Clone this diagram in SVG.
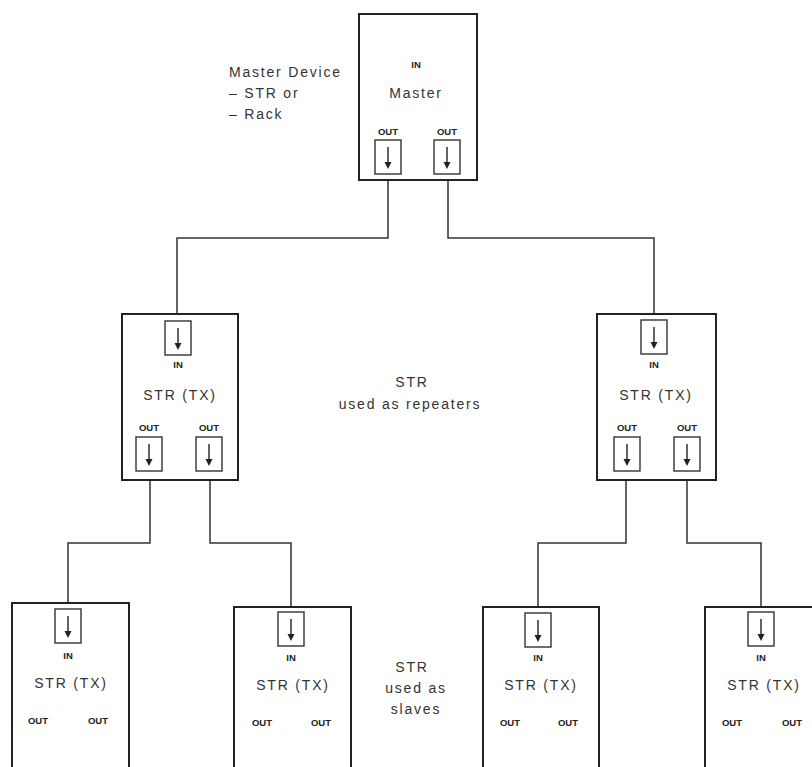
<svg xmlns="http://www.w3.org/2000/svg" width="812" height="767" viewBox="0 0 812 767">
<style>
.box{fill:#fff;stroke:#222;stroke-width:2}
.port{fill:#fff;stroke:#333;stroke-width:1.4}
.arr{stroke:#222;stroke-width:1.4;fill:none}
.wire{stroke:#333;stroke-width:1.5;fill:none}
text{font-family:"Liberation Sans",Arial,sans-serif;fill:#333}
.big{font-size:14px;letter-spacing:1.8px;text-anchor:middle}
.lbl{font-size:14px;letter-spacing:1.8px}
.sm{font-size:9.5px;text-anchor:middle;font-weight:bold;fill:#222}
</style>
<defs>
<marker id="ah" markerWidth="6" markerHeight="6" refX="3" refY="5" orient="auto-start-reverse" markerUnits="userSpaceOnUse">
<path d="M0,0 L6,0 L3,6 Z" fill="#222" transform="translate(0,0)"/>
</marker>
<g id="pt">
<rect class="port" x="-13" y="0" width="26" height="34"/>
<line class="arr" x1="0" y1="7" x2="0" y2="24"/>
<path d="M-3.5,22 L3.5,22 L0,29 Z" fill="#222"/>
</g>
</defs>

<rect width="812" height="767" fill="#fff"/>

<g id="master-note">
<text class="lbl" x="229" y="77">Master Device</text>
<text class="lbl" x="229" y="98">– STR or</text>
<text class="lbl" x="229" y="119">– Rack</text>
</g>

<g id="connectors">
<path class="wire" d="M388,173 V238 H177 V321"/>
<path class="wire" d="M448,173 V238 H654 V320"/>
<path class="wire" d="M150,472 V543 H68 V609"/>
<path class="wire" d="M210,472 V543 H291 V612"/>
<path class="wire" d="M626,472 V543 H538 V613"/>
<path class="wire" d="M687,472 V543 H761 V612"/>
</g>

<g id="master">
<rect class="box" x="359" y="14" width="118" height="166"/>
<text class="sm" x="416" y="68">IN</text>
<text class="big" x="416" y="98">Master</text>
<text class="sm" x="388" y="135">OUT</text>
<text class="sm" x="447" y="135">OUT</text>
<use href="#pt" x="388" y="140"/>
<use href="#pt" x="447" y="140"/>
</g>

<g id="repeater-left">
<rect class="box" x="122" y="314" width="116" height="166"/>
<use href="#pt" x="178" y="321"/>
<text class="sm" x="178" y="368">IN</text>
<text class="big" x="180" y="400">STR (TX)</text>
<text class="sm" x="149" y="431">OUT</text>
<text class="sm" x="209" y="431">OUT</text>
<use href="#pt" x="149" y="437"/>
<use href="#pt" x="209" y="437"/>
</g>

<g id="repeater-right">
<rect class="box" x="597" y="314" width="119" height="166"/>
<use href="#pt" x="654" y="320"/>
<text class="sm" x="654" y="368">IN</text>
<text class="big" x="656" y="400">STR (TX)</text>
<text class="sm" x="627" y="431">OUT</text>
<text class="sm" x="687" y="431">OUT</text>
<use href="#pt" x="627" y="437"/>
<use href="#pt" x="687" y="437"/>
</g>

<g id="repeater-note">
<text class="big" x="412" y="387">STR</text>
<text class="big" x="410" y="409">used as repeaters</text>
</g>

<g id="slave-1">
<rect class="box" x="12" y="603" width="117" height="180"/>
<use href="#pt" x="68" y="609"/>
<text class="sm" x="68" y="659">IN</text>
<text class="big" x="71" y="688">STR (TX)</text>
<text class="sm" x="38" y="724">OUT</text>
<text class="sm" x="98" y="724">OUT</text>
</g>

<g id="slave-2">
<rect class="box" x="234" y="607" width="117" height="180"/>
<use href="#pt" x="291" y="612"/>
<text class="sm" x="291" y="661">IN</text>
<text class="big" x="293" y="690">STR (TX)</text>
<text class="sm" x="262" y="726">OUT</text>
<text class="sm" x="321" y="726">OUT</text>
</g>

<g id="slave-3">
<rect class="box" x="483" y="607" width="116" height="180"/>
<use href="#pt" x="538" y="613"/>
<text class="sm" x="538" y="661">IN</text>
<text class="big" x="541" y="690">STR (TX)</text>
<text class="sm" x="510" y="726">OUT</text>
<text class="sm" x="568" y="726">OUT</text>
</g>

<g id="slave-4">
<rect class="box" x="705" y="607" width="130" height="180"/>
<use href="#pt" x="761" y="612"/>
<text class="sm" x="761" y="661">IN</text>
<text class="big" x="764" y="690">STR (TX)</text>
<text class="sm" x="732" y="726">OUT</text>
<text class="sm" x="792" y="726">OUT</text>
</g>

<g id="slave-note">
<text class="big" x="412" y="672">STR</text>
<text class="big" x="416" y="693">used as</text>
<text class="big" x="416" y="714">slaves</text>
</g>
</svg>
